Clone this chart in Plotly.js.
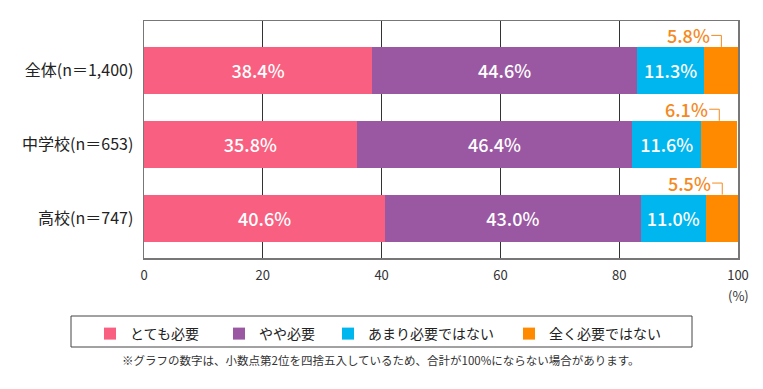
<!DOCTYPE html>
<html>
<head>
<meta charset="utf-8">
<script src="https://cdn.plot.ly/plotly-3.0.1.min.js"></script>
<style>html,body{margin:0;padding:0;background:#fff;}#chart{width:763px;height:389px;}</style>
</head>
<body>
<div id="chart"></div>
<script>
const categories = ['全体(n＝1,400)', '中学校(n＝653)', '高校(n＝747)'];
const seriesNames = ['とても必要', 'やや必要', 'あまり必要ではない', '全く必要ではない'];
const veryNeeded = [38.4, 35.8, 40.6];
const somewhatNeeded = [44.6, 46.4, 43.0];
const notVeryNeeded = [11.3, 11.6, 11.0];
const notNeededAtAll = [5.8, 6.1, 5.5];
const xTickValues = [0, 20, 40, 60, 80, 100];
const footnote = '※グラフの数字は、小数点第2位を四捨五入しているため、合計が100%にならない場合があります。';

const colors = ['#F95F80', '#9A58A2', '#00B6EE', '#FF8A00'];
const orangeText = '#F5891E';
const FONT = '"Noto Sans CJK JP", "Noto Sans", sans-serif';
const seriesValues = [veryNeeded, somewhatNeeded, notVeryNeeded, notNeededAtAll];
const barWidthFrac = 0.637;
const legendIds = ['legend', 'legend2', 'legend3', 'legend4'];
const legendLeftPx = [90, 219, 328, 509];

const traces = seriesValues.map((vals, i) => ({
  type: 'bar',
  orientation: 'h',
  name: seriesNames[i],
  legend: legendIds[i],
  x: vals,
  y: categories,
  marker: {color: colors[i], line: {width: 0}},
  texttemplate: i < 3 ? '%{x:.1f}%' : '',
  textposition: i < 3 ? 'inside' : 'none',
  insidetextanchor: 'middle',
  textfont: {color: '#ffffff', size: 18, family: FONT, weight: 500},
  hoverinfo: 'skip'
}));

const annotations = [];
const shapes = [];
categories.forEach((c, k) => {
  const start = veryNeeded[k] + somewhatNeeded[k] + notVeryNeeded[k];
  const center = start + notNeededAtAll[k] / 2;
  const labelY = k - 0.475;
  const textEnd = center - 1.6;
  annotations.push({
    x: textEnd, y: labelY, xref: 'x', yref: 'y',
    text: notNeededAtAll[k].toFixed(1) + '%',
    showarrow: false, xanchor: 'right', yanchor: 'middle',
    font: {family: FONT, size: 18, color: orangeText, weight: 500}
  });
  shapes.push({
    type: 'path', xref: 'x', yref: 'y',
    path: `M ${textEnd - 0.1} ${labelY} L ${center} ${labelY} L ${center} ${k - barWidthFrac / 2}`,
    line: {color: orangeText, width: 1}
  });
});

annotations.push({
  x: 100, xref: 'x', y: -0.16, yref: 'paper',
  text: '(%)', showarrow: false, xanchor: 'center', yanchor: 'middle',
  font: {family: FONT, size: 13, color: '#333'}
});
annotations.push({
  x: (381 - 144) / 594, xref: 'paper', y: (258 - 360) / 237, yref: 'paper',
  text: footnote, showarrow: false, xanchor: 'center', yanchor: 'middle',
  font: {family: FONT, size: 11.5, color: '#333'}
});
// legend frame
shapes.push({
  type: 'rect', xref: 'paper', yref: 'paper',
  x0: (71 - 144) / 594, x1: (692 - 144) / 594,
  y0: (258 - 347) / 237, y1: (258 - 316) / 237,
  line: {color: '#444', width: 1}, fillcolor: 'rgba(0,0,0,0)'
});

const layout = {
  width: 763, height: 389,
  margin: {l: 144, r: 25, t: 21, b: 131},
  paper_bgcolor: '#fff', plot_bgcolor: '#fff',
  barmode: 'stack',
  bargap: 1 - barWidthFrac,
  showlegend: true,
  xaxis: {
    range: [0, 100], tickvals: xTickValues, ticktext: xTickValues.map(String),
    showgrid: true, gridcolor: '#333', gridwidth: 1,
    zeroline: false, showline: true, linecolor: '#777', linewidth: 1.5, mirror: true,
    ticks: '', ticklabelstandoff: 5,
    tickfont: {family: FONT, size: 13, color: '#333'},
    fixedrange: true
  },
  yaxis: {
    type: 'category', categoryorder: 'array', categoryarray: categories,
    range: [2.54, -0.67],
    showgrid: false, zeroline: false, showline: true, linecolor: '#777', linewidth: 1.5, mirror: true,
    ticks: '', ticklabelstandoff: 6,
    tickfont: {family: FONT, size: 16, color: '#222'},
    fixedrange: true
  },
  uniformtext: {mode: 'show', minsize: 18},
  annotations: annotations,
  shapes: shapes,
  font: {family: FONT}
};
legendIds.forEach((id, i) => {
  layout[id] = {
    orientation: 'h', x: (legendLeftPx[i] - 144) / 594, y: (258 - 318) / 237,
    xanchor: 'left', yanchor: 'top',
    font: {family: FONT, size: 14, color: '#222'},
    bgcolor: 'rgba(0,0,0,0)', borderwidth: 0,
    itemclick: false, itemdoubleclick: false
  };
});

Plotly.newPlot('chart', traces, layout, {displayModeBar: false, staticPlot: true});
</script>
</body>
</html>
